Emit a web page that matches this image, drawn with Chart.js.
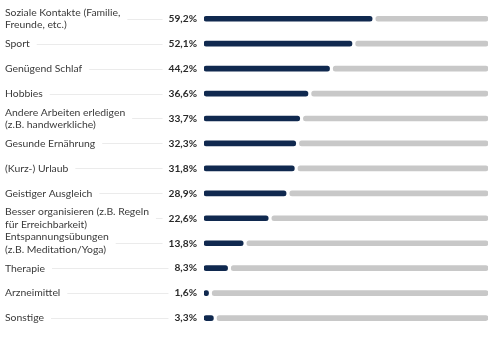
<!DOCTYPE html>
<html>
<head>
<meta charset="utf-8">
<script src="https://cdn.jsdelivr.net/npm/chart.js@4.4.1/dist/chart.umd.min.js"></script>
<style>
  html, body { margin: 0; padding: 0; background: #fff; }
  #wrap { width: 500px; height: 343px; }
</style>
</head>
<body>
<div id="wrap"><canvas id="chart"></canvas></div>
<script>
const categories = [
  ['Soziale Kontakte (Familie,', 'Freunde, etc.)'],
  'Sport',
  'Genügend Schlaf',
  'Hobbies',
  ['Andere Arbeiten erledigen', '(z.B. handwerkliche)'],
  'Gesunde Ernährung',
  '(Kurz-) Urlaub',
  'Geistiger Ausgleich',
  ['Besser organisieren (z.B. Regeln', 'für Erreichbarkeit)'],
  ['Entspannungsübungen', '(z.B. Meditation/Yoga)'],
  'Therapie',
  'Arzneimittel',
  'Sonstige'
];
const values = [59.2, 52.1, 44.2, 36.6, 33.7, 32.3, 31.8, 28.9, 22.6, 13.8, 8.3, 1.6, 3.3];
const trackEnd = 100;
const trackGap = 1.3;

const navy = '#10294f';
const track = '#c8c8c8';
const labelFont = '10.4px Lato';

const valueLabels = {
  id: 'valueLabels',
  afterDatasetsDraw(chart) {
    const ctx = chart.ctx;
    const meta = chart.getDatasetMeta(1);
    const left = chart.chartArea.left;
    ctx.save();
    meta.data.forEach((bar, i) => {
      const y = bar.y;
      const txt = values[i].toFixed(1).replace('.', ',') + '%';
      ctx.font = 'bold 10.2px Lato';
      ctx.fillStyle = '#2a2a2a';
      ctx.textAlign = 'right';
      ctx.textBaseline = 'middle';
      const tx = left - 7;
      ctx.fillText(txt, tx, y);
      const tw = ctx.measureText(txt).width;
      // leader line from label end to value
      ctx.font = labelFont;
      const lines = Array.isArray(categories[i]) ? categories[i] : [categories[i]];
      const lw = Math.max(...lines.map(l => ctx.measureText(l).width));
      const x0 = 5 + lw + 7;
      const x1 = tx - tw - 6;
      ctx.strokeStyle = '#ebebeb';
      ctx.lineWidth = 1;
      ctx.beginPath();
      ctx.moveTo(x0, Math.round(y) + 0.5);
      ctx.lineTo(x1, Math.round(y) + 0.5);
      ctx.stroke();
    });
    ctx.restore();
  }
};

new Chart(document.getElementById('chart').getContext('2d'), {
  type: 'bar',
  data: {
    labels: categories,
    datasets: [{
      data: values.map(v => [v + trackGap, trackEnd]),
      backgroundColor: track,
      barThickness: 5,
      borderRadius: 3,
      borderSkipped: false,
      grouped: false
    }, {
      data: values,
      backgroundColor: navy,
      barThickness: 5,
      borderRadius: 3,
      borderSkipped: false,
      grouped: false
    }]
  },
  options: {
    indexAxis: 'y',
    responsive: true,
    maintainAspectRatio: false,
    animation: false,
    layout: { padding: { left: 5, right: 12, top: 5, bottom: 7 } },
    plugins: { legend: { display: false }, tooltip: { enabled: false } },
    scales: {
      x: { min: 0, max: 100, display: false },
      y: {
        grid: { display: false },
        border: { display: false },
        afterFit: scale => { scale.width = 199; },
        ticks: {
          crossAlign: 'far',
          color: '#3a3a3a',
          font: { family: 'Lato', size: 10.4, lineHeight: 1.2 },
          padding: 0,
          autoSkip: false
        }
      }
    }
  },
  plugins: [valueLabels]
});
</script>
</body>
</html>
